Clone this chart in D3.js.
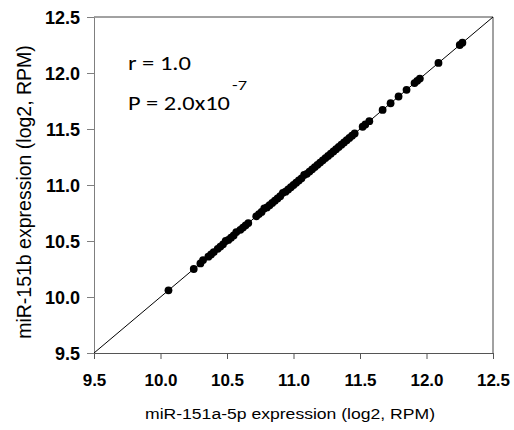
<!DOCTYPE html>
<html>
<head>
<meta charset="utf-8">
<script src="https://cdn.jsdelivr.net/npm/d3@7"></script>
<style>
  html, body { margin: 0; padding: 0; background: #fff; overflow: hidden; }
  svg { display: block; }
</style>
</head>
<body>
<div id="chart"></div>
<script>
// miR-151a-5p (x) vs miR-151b (y), log2 RPM
const xVals = [10.06, 10.25, 10.30, 10.32, 10.36, 10.38, 10.40,
  10.43, 10.45, 10.47, 10.49, 10.51, 10.53, 10.55, 10.57, 10.60, 10.62, 10.64, 10.66,
  10.72, 10.74, 10.76, 10.78, 10.80, 10.82, 10.84, 10.86, 10.88, 10.90, 10.92, 10.94,
  10.96, 10.98, 11.00, 11.02, 11.04, 11.06, 11.08, 11.10, 11.12, 11.14, 11.16, 11.18,
  11.20, 11.22, 11.24, 11.26, 11.28, 11.30, 11.32, 11.34, 11.36, 11.38, 11.40, 11.42,
  11.44, 11.46, 11.52, 11.54, 11.57, 11.67, 11.73, 11.79, 11.85, 11.91, 11.93, 11.95,
  12.09, 12.25, 12.27]
const yVals = [10.06, 10.25, 10.30, 10.33, 10.36, 10.38, 10.40,
  10.43, 10.45, 10.47, 10.50, 10.51, 10.53, 10.55, 10.58, 10.60, 10.62, 10.64, 10.66,
  10.72, 10.74, 10.76, 10.79, 10.80, 10.82, 10.84, 10.86, 10.88, 10.90, 10.93, 10.94,
  10.96, 10.98, 11.00, 11.02, 11.04, 11.06, 11.09, 11.10, 11.12, 11.14, 11.16, 11.18,
  11.20, 11.22, 11.24, 11.26, 11.28, 11.30, 11.32, 11.34, 11.36, 11.38, 11.40, 11.42,
  11.44, 11.46, 11.52, 11.54, 11.57, 11.67, 11.73, 11.79, 11.85, 11.91, 11.93, 11.95,
  12.09, 12.25, 12.27]
const tickVals = [9.5, 10.0, 10.5, 11.0, 11.5, 12.0, 12.5]
const rText = "r = 1.0"
const pText = "P = 2.0x10"
const pExp = "-7"

const width = 514
const height = 430
const margin = {top: 17, right: 21, bottom: 77, left: 94}
const innerWidth = width - margin.left - margin.right
const innerHeight = height - margin.top - margin.bottom

const svg = d3.select("#chart")
  .append("svg")
  .attr("viewBox", [0, 0, width, height])
  .attr("width", "100%")
  .attr("preserveAspectRatio", "xMidYMid meet")
  .style("max-height", "100vh")

const g = svg.append("g")
  .attr("transform", `translate(${margin.left},${margin.top})`)

const xScale = d3.scaleLinear().domain([9.5, 12.5]).range([0, innerWidth])
const yScale = d3.scaleLinear().domain([9.5, 12.5]).range([innerHeight, 0])

const axisColor = "#7f7f7f"
const arial = "Arial, 'Liberation Sans', sans-serif"

// frame (top + right)
g.append("path")
  .attr("d", `M0,0H${innerWidth}V${innerHeight}`)
  .attr("fill", "none")
  .attr("stroke", "#444")
  .attr("stroke-width", 1)

const xAxis = g.append("g")
  .attr("transform", `translate(0,${innerHeight})`)
  .call(d3.axisBottom(xScale).tickValues(tickVals).tickFormat(d3.format(".1f")).tickSize(6).tickSizeOuter(0))
const yAxis = g.append("g")
  .call(d3.axisLeft(yScale).tickValues(tickVals).tickFormat(d3.format(".1f")).tickSize(7).tickSizeOuter(0))

xAxis.select(".domain").attr("stroke", "#555")
xAxis.selectAll(".tick line").attr("stroke", "#555")
yAxis.select(".domain").attr("stroke", axisColor)
yAxis.selectAll(".tick line").attr("stroke", axisColor)

xAxis.selectAll(".tick text")
  .attr("fill", "#000")
  .attr("y", 33)
  .attr("dy", null)
  .style("font-family", arial)
  .style("font-weight", "bold")
  .style("font-size", "17px")
yAxis.selectAll(".tick text")
  .attr("fill", "#000")
  .attr("x", -14)
  .attr("dy", "0.35em")
  .style("font-family", arial)
  .style("font-weight", "bold")
  .style("font-size", "18px")

// identity line
g.append("line")
  .attr("x1", xScale(9.5)).attr("y1", yScale(9.5))
  .attr("x2", xScale(12.5)).attr("y2", yScale(12.5))
  .attr("stroke", "#000")
  .attr("stroke-width", 1)

// points
g.selectAll(".dot")
  .data(xVals.map((x, i) => ({x: x, y: yVals[i]})))
  .enter().append("circle")
  .attr("class", "dot")
  .attr("cx", d => xScale(d.x))
  .attr("cy", d => yScale(d.y))
  .attr("r", 3.9)
  .attr("fill", "#000")

// stats annotation
const ann = g.append("g")
  .style("font-family", "Carlito, Lato, 'Open Sans', sans-serif")
ann.append("text")
  .attr("x", 34).attr("y", 53)
  .attr("textLength", 63)
  .attr("lengthAdjust", "spacingAndGlyphs")
  .style("font-size", "21px")
  .text(rText)
ann.append("text")
  .attr("x", 34).attr("y", 93)
  .attr("textLength", 102)
  .attr("lengthAdjust", "spacingAndGlyphs")
  .style("font-size", "21px")
  .text(pText)
ann.append("text")
  .attr("x", 138).attr("y", 73)
  .attr("textLength", 15)
  .attr("lengthAdjust", "spacingAndGlyphs")
  .style("font-size", "14px")
  .text(pExp)

// axis titles
svg.append("text")
  .attr("x", 290)
  .attr("y", 419)
  .attr("text-anchor", "middle")
  .attr("textLength", 290)
  .attr("lengthAdjust", "spacingAndGlyphs")
  .style("font-family", arial)
  .style("font-size", "15.5px")
  .text("miR-151a-5p expression (log2, RPM)")

svg.append("text")
  .attr("transform", `translate(31,192) rotate(-90)`)
  .attr("text-anchor", "middle")
  .style("font-family", arial)
  .style("font-size", "19.5px")
  .text("miR-151b expression (log2, RPM)")
</script>
</body>
</html>
